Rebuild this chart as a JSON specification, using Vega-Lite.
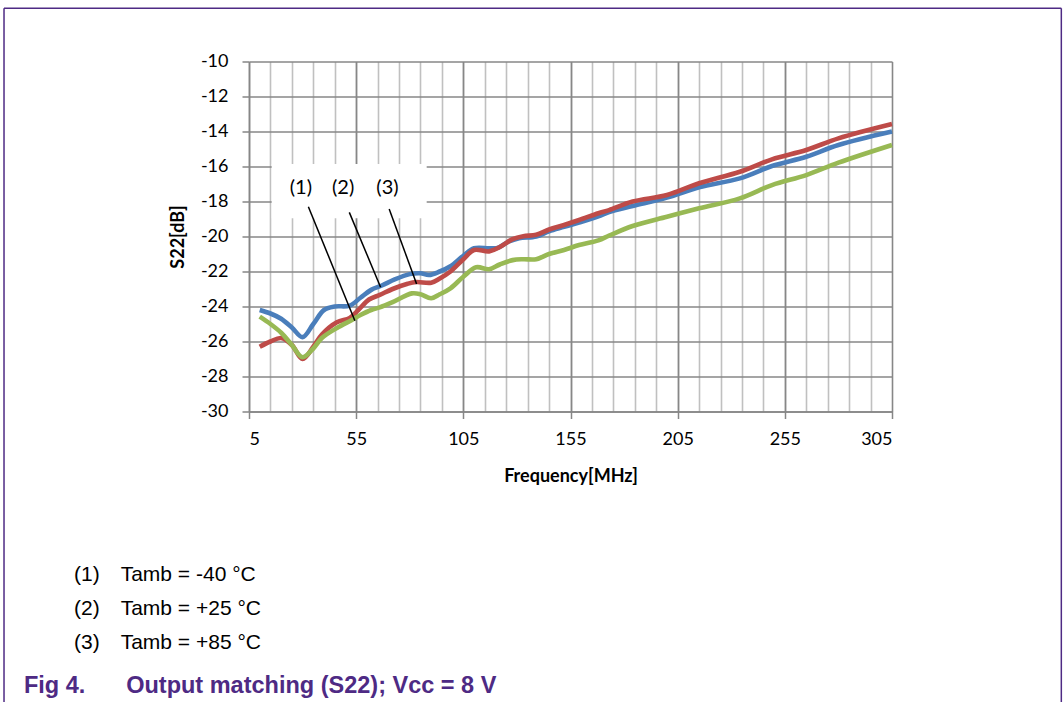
{
  "$schema": "https://vega.github.io/schema/vega-lite/v6.json",
  "width": 643,
  "height": 350,
  "autosize": "none",
  "padding": {"left": 249, "top": 61.5, "right": 171, "bottom": 290.5},
  "background": "white",
  "datasets": {
    "s22": [
      {"series": "(1)", "f": 10, "s22": -24.2}, {"series": "(1)", "f": 15, "s22": -24.4}, {"series": "(1)", "f": 20, "s22": -24.7},
      {"series": "(1)", "f": 25, "s22": -25.2}, {"series": "(1)", "f": 30, "s22": -25.75}, {"series": "(1)", "f": 35, "s22": -25.0},
      {"series": "(1)", "f": 40, "s22": -24.2}, {"series": "(1)", "f": 45, "s22": -24.0}, {"series": "(1)", "f": 52, "s22": -23.95},
      {"series": "(1)", "f": 57, "s22": -23.5}, {"series": "(1)", "f": 62, "s22": -23.05}, {"series": "(1)", "f": 67, "s22": -22.8},
      {"series": "(1)", "f": 73, "s22": -22.45}, {"series": "(1)", "f": 80, "s22": -22.15}, {"series": "(1)", "f": 85, "s22": -22.1},
      {"series": "(1)", "f": 89, "s22": -22.2}, {"series": "(1)", "f": 94, "s22": -22.0}, {"series": "(1)", "f": 99, "s22": -21.7},
      {"series": "(1)", "f": 105, "s22": -21.1}, {"series": "(1)", "f": 110, "s22": -20.67}, {"series": "(1)", "f": 117, "s22": -20.67},
      {"series": "(1)", "f": 121, "s22": -20.65}, {"series": "(1)", "f": 126, "s22": -20.3}, {"series": "(1)", "f": 131, "s22": -20.1},
      {"series": "(1)", "f": 139, "s22": -20.0}, {"series": "(1)", "f": 145, "s22": -19.7}, {"series": "(1)", "f": 152, "s22": -19.45},
      {"series": "(1)", "f": 159, "s22": -19.2}, {"series": "(1)", "f": 168, "s22": -18.85}, {"series": "(1)", "f": 173, "s22": -18.6},
      {"series": "(1)", "f": 184, "s22": -18.26}, {"series": "(1)", "f": 200, "s22": -17.78}, {"series": "(1)", "f": 215, "s22": -17.19},
      {"series": "(1)", "f": 234, "s22": -16.68}, {"series": "(1)", "f": 249, "s22": -15.97}, {"series": "(1)", "f": 265, "s22": -15.44},
      {"series": "(1)", "f": 280, "s22": -14.77}, {"series": "(1)", "f": 305, "s22": -14.0},

      {"series": "(2)", "f": 10, "s22": -26.3}, {"series": "(2)", "f": 15, "s22": -26.0}, {"series": "(2)", "f": 20, "s22": -25.8},
      {"series": "(2)", "f": 25, "s22": -26.2}, {"series": "(2)", "f": 30, "s22": -27.0}, {"series": "(2)", "f": 35, "s22": -26.3},
      {"series": "(2)", "f": 39, "s22": -25.6}, {"series": "(2)", "f": 46, "s22": -24.9}, {"series": "(2)", "f": 52, "s22": -24.66},
      {"series": "(2)", "f": 56, "s22": -24.2}, {"series": "(2)", "f": 61, "s22": -23.6}, {"series": "(2)", "f": 66, "s22": -23.34},
      {"series": "(2)", "f": 72, "s22": -23.0}, {"series": "(2)", "f": 79, "s22": -22.7}, {"series": "(2)", "f": 83, "s22": -22.6},
      {"series": "(2)", "f": 90, "s22": -22.64}, {"series": "(2)", "f": 94, "s22": -22.4}, {"series": "(2)", "f": 99, "s22": -22.0},
      {"series": "(2)", "f": 105, "s22": -21.3}, {"series": "(2)", "f": 110, "s22": -20.77}, {"series": "(2)", "f": 117, "s22": -20.85},
      {"series": "(2)", "f": 122, "s22": -20.6}, {"series": "(2)", "f": 128, "s22": -20.15}, {"series": "(2)", "f": 133, "s22": -19.98},
      {"series": "(2)", "f": 139, "s22": -19.9}, {"series": "(2)", "f": 145, "s22": -19.6}, {"series": "(2)", "f": 152, "s22": -19.34},
      {"series": "(2)", "f": 159, "s22": -19.06}, {"series": "(2)", "f": 168, "s22": -18.67}, {"series": "(2)", "f": 173, "s22": -18.49},
      {"series": "(2)", "f": 184, "s22": -18.0}, {"series": "(2)", "f": 200, "s22": -17.63}, {"series": "(2)", "f": 215, "s22": -16.96},
      {"series": "(2)", "f": 234, "s22": -16.3}, {"series": "(2)", "f": 249, "s22": -15.59}, {"series": "(2)", "f": 265, "s22": -15.06},
      {"series": "(2)", "f": 280, "s22": -14.39}, {"series": "(2)", "f": 305, "s22": -13.57},

      {"series": "(3)", "f": 10, "s22": -24.58}, {"series": "(3)", "f": 15, "s22": -25.0}, {"series": "(3)", "f": 20, "s22": -25.5},
      {"series": "(3)", "f": 25, "s22": -26.2}, {"series": "(3)", "f": 30, "s22": -26.9}, {"series": "(3)", "f": 35, "s22": -26.4},
      {"series": "(3)", "f": 39, "s22": -25.8}, {"series": "(3)", "f": 46, "s22": -25.23}, {"series": "(3)", "f": 53, "s22": -24.77},
      {"series": "(3)", "f": 57, "s22": -24.49}, {"series": "(3)", "f": 62, "s22": -24.2}, {"series": "(3)", "f": 66, "s22": -24.05},
      {"series": "(3)", "f": 72, "s22": -23.75}, {"series": "(3)", "f": 81, "s22": -23.25}, {"series": "(3)", "f": 85, "s22": -23.3},
      {"series": "(3)", "f": 90, "s22": -23.53}, {"series": "(3)", "f": 94, "s22": -23.3}, {"series": "(3)", "f": 99, "s22": -22.96},
      {"series": "(3)", "f": 105, "s22": -22.3}, {"series": "(3)", "f": 111, "s22": -21.76}, {"series": "(3)", "f": 117, "s22": -21.87},
      {"series": "(3)", "f": 122, "s22": -21.6}, {"series": "(3)", "f": 128, "s22": -21.35}, {"series": "(3)", "f": 133, "s22": -21.3},
      {"series": "(3)", "f": 139, "s22": -21.3}, {"series": "(3)", "f": 145, "s22": -21.0}, {"series": "(3)", "f": 152, "s22": -20.77},
      {"series": "(3)", "f": 159, "s22": -20.49}, {"series": "(3)", "f": 168, "s22": -20.22}, {"series": "(3)", "f": 173, "s22": -19.95},
      {"series": "(3)", "f": 184, "s22": -19.4}, {"series": "(3)", "f": 200, "s22": -18.87}, {"series": "(3)", "f": 215, "s22": -18.39},
      {"series": "(3)", "f": 234, "s22": -17.82}, {"series": "(3)", "f": 249, "s22": -17.06}, {"series": "(3)", "f": 265, "s22": -16.49},
      {"series": "(3)", "f": 280, "s22": -15.78}, {"series": "(3)", "f": 305, "s22": -14.77}
    ],
    "notes": [
      {"label": "(1)", "f": 29.2, "v": -17.24, "fa": 32.7, "va": -18.3, "fb": 54.4, "vb": -24.81},
      {"label": "(2)", "f": 48.9, "v": -17.24, "fa": 51.8, "va": -18.62, "fb": 66.4, "vb": -22.9},
      {"label": "(3)", "f": 69.6, "v": -17.24, "fa": 70.4, "va": -18.43, "fb": 83.2, "vb": -22.71}
    ]
  },
  "layer": [
    {
      "data": {"values": [{}]},
      "mark": {"type": "rect", "fill": "white"},
      "encoding": {
        "x": {
          "datum": 15.6, "type": "quantitative",
          "scale": {"domain": [5, 305], "nice": false, "zero": false},
          "axis": {
            "orient": "bottom",
            "values": [15, 25, 35, 45, 55, 65, 75, 85, 95, 105, 115, 125, 135, 145, 155, 165, 175, 185, 195, 205, 215, 225, 235, 245, 255, 265, 275, 285, 295],
            "grid": true, "gridColor": "#C0C0C0", "gridWidth": 1.6,
            "labels": false, "ticks": false, "domain": false, "title": null
          }
        },
        "x2": {"datum": 87.9},
        "y": {
          "datum": -15.85, "type": "quantitative",
          "scale": {"domain": [-30, -10], "nice": false, "zero": false},
          "axis": {
            "values": [-30, -28, -26, -24, -22, -20, -18, -16, -14, -12, -10],
            "title": "S22[dB]", "grid": true, "tickSize": 7, "labelPadding": 14, "titlePadding": 13,
            "labelExpr": "'' + datum.value"
          }
        },
        "y2": {"datum": -18.95}
      }
    },
    {
      "data": {"name": "s22"},
      "mark": {"type": "line", "interpolate": "catmull-rom", "strokeWidth": 4.6},
      "encoding": {
        "x": {
          "field": "f", "type": "quantitative",
          "scale": {"domain": [5, 305], "nice": false, "zero": false},
          "axis": {
            "orient": "bottom",
            "values": [5, 55, 105, 155, 205, 255, 305],
            "title": "Frequency[MHz]", "grid": true, "tickSize": 7, "labelPadding": 12, "titlePadding": 19,
            "labelExpr": "'' + datum.value"
          }
        },
        "y": {
          "field": "s22", "type": "quantitative",
          "scale": {"domain": [-30, -10], "nice": false, "zero": false},
          "axis": null
        },
        "color": {
          "field": "series", "type": "nominal",
          "scale": {"domain": ["(1)", "(2)", "(3)"], "range": ["#4A7EBB", "#BE4B48", "#98B954"]},
          "legend": {
            "orient": "none", "legendX": -196, "legendY": 503, "title": null,
            "symbolSize": 0, "symbolStrokeWidth": 0, "symbolOpacity": 0, "labelOffset": 0,
            "labelFont": "Liberation Sans", "labelFontSize": 21, "labelColor": "#000000", "labelLimit": 500,
            "rowPadding": 12, "padding": 0,
            "labelExpr": "datum.label + '\u00a0\u00a0\u00a0\u200a\u200aTamb = ' + (datum.label == '(1)' ? '-40' : datum.label == '(2)' ? '+25' : '+85') + ' °C'"
          }
        }
      }
    },
    {
      "data": {"name": "notes"},
      "mark": {"type": "rule", "color": "#000000", "strokeWidth": 1.5},
      "encoding": {
        "x": {"field": "fa", "type": "quantitative", "scale": {"domain": [5, 305], "nice": false, "zero": false}, "axis": null},
        "y": {"field": "va", "type": "quantitative", "scale": {"domain": [-30, -10], "nice": false, "zero": false}, "axis": null},
        "x2": {"field": "fb"},
        "y2": {"field": "vb"}
      }
    },
    {
      "data": {"name": "notes"},
      "mark": {"type": "text", "font": "Lato", "fontSize": 20, "color": "#000000", "align": "center", "baseline": "middle"},
      "encoding": {
        "x": {"field": "f", "type": "quantitative", "scale": {"domain": [5, 305], "nice": false, "zero": false}, "axis": null},
        "y": {"field": "v", "type": "quantitative", "scale": {"domain": [-30, -10], "nice": false, "zero": false}, "axis": null},
        "text": {"field": "label"}
      }
    },
    {
      "data": {"values": [{}]},
      "mark": {"type": "rule", "color": "#4E2A84", "strokeWidth": 1.5},
      "encoding": {
        "x": {"datum": -109.3, "type": "quantitative", "scale": {"domain": [5, 305], "nice": false, "zero": false}, "axis": null},
        "x2": {"datum": 384},
        "y": {"datum": -6.95, "type": "quantitative", "scale": {"domain": [-30, -10], "nice": false, "zero": false}, "axis": null}
      }
    },
    {
      "data": {"values": [{}]},
      "mark": {"type": "rule", "color": "#4E2A84", "strokeWidth": 1.5},
      "encoding": {
        "x": {"datum": -109.3, "type": "quantitative", "scale": {"domain": [5, 305], "nice": false, "zero": false}, "axis": null},
        "y": {"datum": -6.95, "type": "quantitative", "scale": {"domain": [-30, -10], "nice": false, "zero": false}, "axis": null},
        "y2": {"datum": -47}
      }
    },
    {
      "data": {"values": [{}]},
      "mark": {"type": "rule", "color": "#4E2A84", "strokeWidth": 1.5},
      "encoding": {
        "x": {"datum": 384, "type": "quantitative", "scale": {"domain": [5, 305], "nice": false, "zero": false}, "axis": null},
        "y": {"datum": -6.95, "type": "quantitative", "scale": {"domain": [-30, -10], "nice": false, "zero": false}, "axis": null},
        "y2": {"datum": -47}
      }
    },
    {
      "data": {"values": [{"part": "Fig 4.", "f": -100, "v": -46.09}, {"part": "Output matching (S22); Vcc = 8 V", "f": -52.3, "v": -46.09}]},
      "mark": {"type": "text", "font": "Liberation Sans", "fontSize": 23.5, "fontWeight": "bold", "color": "#4E2A84", "align": "left", "baseline": "alphabetic"},
      "encoding": {
        "x": {"field": "f", "type": "quantitative", "scale": {"domain": [5, 305], "nice": false, "zero": false}, "axis": null},
        "y": {"field": "v", "type": "quantitative", "scale": {"domain": [-30, -10], "nice": false, "zero": false}, "axis": null},
        "text": {"field": "part"}
      }
    }
  ],
  "resolve": {"axis": {"x": "independent", "y": "independent"}},
  "config": {
    "view": {"stroke": null},
    "axis": {
      "labelFont": "Lato", "labelFontSize": 18, "labelColor": "#000000",
      "titleFont": "Lato", "titleFontSize": 18, "titleFontWeight": "bold", "titleColor": "#000000",
      "domainColor": "#868686", "domainWidth": 1.5,
      "tickColor": "#868686", "tickWidth": 1.5,
      "gridColor": "#878787", "gridWidth": 1.6, "gridOpacity": 1
    }
  }
}
